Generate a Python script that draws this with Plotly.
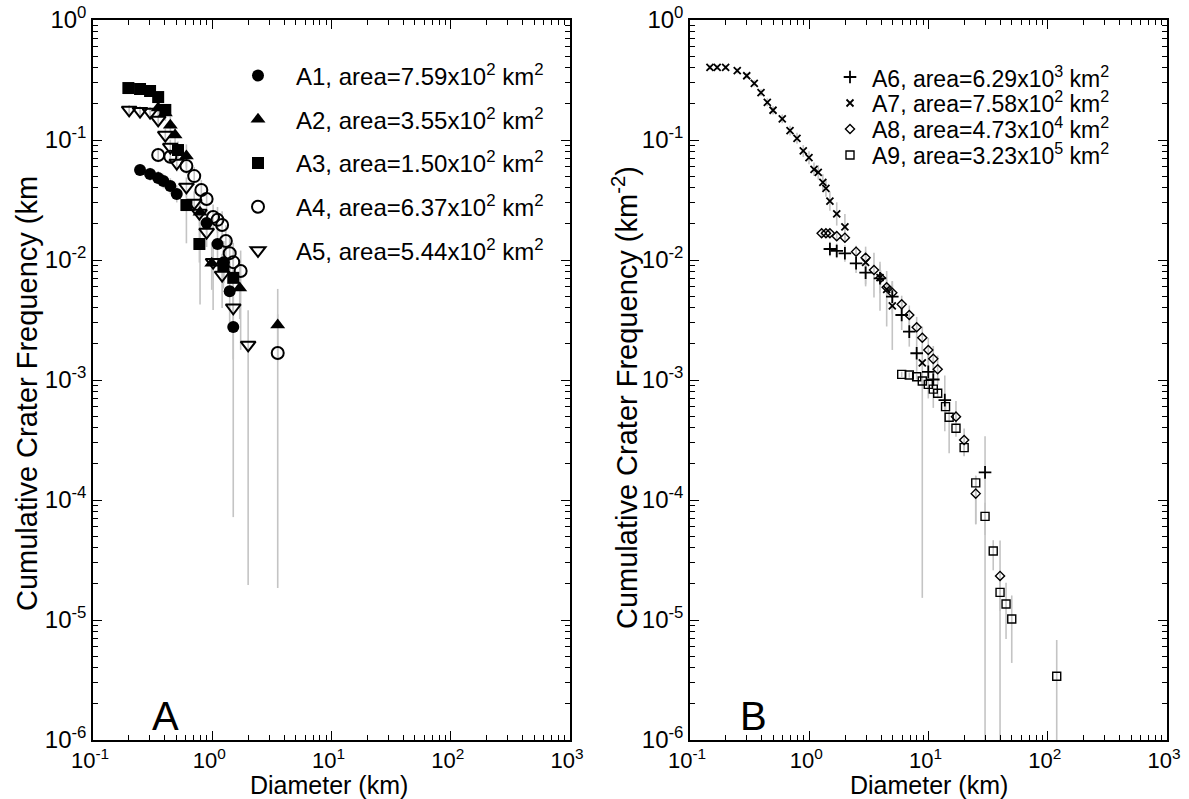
import plotly.graph_objects as go

# ---------------- Panel A data ----------------
A1_D = [0.248, 0.301, 0.352, 0.389, 0.445, 0.504, 0.897, 1.107, 1.25, 1.40, 1.50]
A1_N = [0.0562, 0.052, 0.0483, 0.0455, 0.0414, 0.0355, 0.0203, 0.0136, 0.0096, 0.0055, 0.00277]
A1_eu = [0.12, 0.13, 0.14, 0.15, 0.16, 0.18, 0.3, 0.4, 0.5, 0.7, 1.0]
A1_ed = [0.11, 0.12, 0.12, 0.13, 0.14, 0.15, 0.23, 0.28, 0.33, 0.45, 0.974]

A2_D = [0.352, 0.404, 0.445, 0.488, 0.607, 0.79, 0.99, 1.70, 3.54]
A2_N = [0.185, 0.168, 0.133, 0.110, 0.0736, 0.025, 0.0094, 0.00585, 0.00287]
A2_eu = [0.15, 0.16, 0.18, 0.2, 0.25, 0.35, 0.5, 0.6, 1.0]
A2_ed = [0.13, 0.14, 0.15, 0.17, 0.2, 0.83, 0.4, 0.45, 0.5]

A3_D = [0.198, 0.248, 0.301, 0.352, 0.404, 0.516, 0.607, 0.78, 1.24, 1.50]
A3_N = [0.271, 0.266, 0.256, 0.228, 0.178, 0.0825, 0.0287, 0.0136, 0.0089, 0.0071]
A3_eu = [0.1, 0.1, 0.1, 0.11, 0.12, 0.18, 0.3, 0.4, 0.5, 0.55]
A3_ed = [0.09, 0.09, 0.09, 0.1, 0.11, 0.15, 0.52, 0.3, 0.35, 0.4]

A4_D = [0.352, 0.445, 0.607, 0.706, 0.81, 0.897, 1.017, 1.107, 1.21, 1.30, 1.40, 1.50, 1.73, 3.54]
A4_N = [0.075, 0.0726, 0.0607, 0.050, 0.0383, 0.0322, 0.0228, 0.0216, 0.0196, 0.0144, 0.0114, 0.0096, 0.0081, 0.00168]
A4_eu = [0.15, 0.15, 0.17, 0.19, 0.21, 0.23, 0.27, 0.28, 0.3, 0.35, 0.4, 0.45, 0.48, 1.1]
A4_ed = [0.13, 0.13, 0.14, 0.16, 0.17, 0.19, 0.21, 0.22, 0.23, 0.26, 0.3, 0.35, 0.78, 0.989]

A5_D = [0.201, 0.248, 0.301, 0.352, 0.404, 0.445, 0.504, 0.607, 0.706, 0.78, 0.897, 1.017, 1.21, 1.50, 2.0]
A5_N = [0.178, 0.174, 0.171, 0.147, 0.110, 0.0874, 0.0643, 0.0406, 0.0299, 0.0246, 0.0171, 0.0096, 0.0075, 0.0040, 0.00196]
A5_eu = [0.1, 0.1, 0.1, 0.11, 0.13, 0.15, 0.17, 0.2, 0.25, 0.28, 0.32, 0.45, 0.5, 0.6, 0.95]
A5_ed = [0.09, 0.09, 0.09, 0.1, 0.11, 0.13, 0.15, 0.17, 0.2, 0.22, 0.25, 0.6, 0.47, 0.63, 0.99]

# ---------------- Panel B data ----------------
A6_D = [1.49, 1.70, 1.99, 2.47, 2.97, 3.92, 4.97, 5.96, 6.90, 7.96, 9.96, 10.97, 13.7, 29.8]
A6_N = [0.01235, 0.0119, 0.01137, 0.00939, 0.00784, 0.00704, 0.00495, 0.00348, 0.00253, 0.00167, 0.00117, 0.00101, 0.00068, 0.00017]
A6_eu = [0.15, 0.15, 0.17, 0.2, 0.25, 0.3, 0.35, 0.33, 0.37, 0.4, 0.45, 0.5, 0.6, 1.0]
A6_ed = [0.13, 0.13, 0.15, 0.17, 0.2, 0.25, 0.28, 0.25, 0.25, 0.3, 0.4, 0.42, 0.45, 0.9999]

A7_D = [0.147, 0.169, 0.199, 0.249, 0.299, 0.346, 0.394, 0.445, 0.497, 0.594, 0.69, 0.789, 0.891,
        0.995, 1.096, 1.19, 1.30, 1.38, 1.49, 1.70, 1.99, 2.97, 3.92, 4.46, 4.97, 8.87]
A7_N = [0.403, 0.403, 0.403, 0.378, 0.343, 0.297, 0.248, 0.206, 0.177, 0.150, 0.1196, 0.1033, 0.081,
        0.0712, 0.057, 0.0538, 0.0444, 0.0396, 0.031, 0.0242, 0.0189, 0.00957, 0.00712, 0.0057, 0.00414, 0.00139]
A7_eu = [0.05, 0.05, 0.05, 0.05, 0.06, 0.06, 0.07, 0.08, 0.08, 0.09, 0.1, 0.11, 0.12,
         0.13, 0.14, 0.15, 0.17, 0.18, 0.2, 0.25, 0.28, 0.35, 0.36, 0.42, 0.6, 0.37]
A7_ed = [0.05, 0.05, 0.05, 0.05, 0.05, 0.06, 0.06, 0.07, 0.08, 0.08, 0.09, 0.1, 0.11,
         0.12, 0.12, 0.13, 0.14, 0.15, 0.17, 0.2, 0.22, 0.37, 0.47, 0.51, 0.57, 0.989]

A8_D = [1.27, 1.38, 1.49, 1.70, 1.99, 2.47, 2.97, 3.49, 3.97, 4.46, 4.97, 5.96, 6.90, 7.96, 8.87,
        9.96, 10.97, 11.94, 17.0, 19.9, 24.9, 39.8]
A8_N = [0.0167, 0.0167, 0.0167, 0.0158, 0.01535, 0.01173, 0.01045, 0.00825, 0.00712, 0.00592, 0.00534,
        0.00427, 0.00348, 0.00275, 0.00225, 0.00178, 0.0015, 0.00123, 0.000495, 0.000316, 0.000113, 2.33e-5]
A8_eu = [0.08, 0.08, 0.08, 0.1, 0.1, 0.12, 0.13, 0.39, 0.15, 0.16, 0.17, 0.18, 0.2, 0.22, 0.24,
         0.26, 0.28, 0.3, 0.35, 0.25, 0.4, 0.97]
A8_ed = [0.07, 0.07, 0.07, 0.08, 0.09, 0.1, 0.11, 0.41, 0.13, 0.14, 0.15, 0.16, 0.17, 0.18, 0.2,
         0.22, 0.24, 0.26, 0.28, 0.26, 0.44, 0.9999]

A9_D = [5.96, 6.90, 7.96, 8.87, 9.96, 10.97, 11.94, 13.9, 14.9, 17.0, 19.9, 24.9, 29.8, 34.9, 39.8,
        44.7, 49.9, 118.9]
A9_N = [0.001115, 0.0011, 0.001065, 0.00098, 0.00092, 0.00084, 0.000775, 0.0006, 0.00049, 0.000396,
        0.000273, 0.000139, 7.3e-5, 3.76e-5, 1.7e-5, 1.36e-5, 1.02e-5, 3.4e-6]
A9_eu = [0.05, 0.05, 0.05, 0.06, 0.07, 0.08, 0.09, 0.12, 0.14, 0.15, 0.15, 0.15, 0.3, 0.23, 0.3,
         0.5, 0.57, 1.0]
A9_ed = [0.05, 0.05, 0.05, 0.06, 0.07, 0.08, 0.09, 0.12, 0.5, 0.15, 0.15, 0.55, 0.3, 0.31, 0.3,
         0.49, 0.57, 0.9999]

# legend labels
labels_A = ["A1, area=7.59x10<sup>2</sup> km<sup>2</sup>",
            "A2, area=3.55x10<sup>2</sup> km<sup>2</sup>",
            "A3, area=1.50x10<sup>2</sup> km<sup>2</sup>",
            "A4, area=6.37x10<sup>2</sup> km<sup>2</sup>",
            "A5, area=5.44x10<sup>2</sup> km<sup>2</sup>"]
labels_B = ["A6, area=6.29x10<sup>3</sup> km<sup>2</sup>",
            "A7, area=7.58x10<sup>2</sup> km<sup>2</sup>",
            "A8, area=4.73x10<sup>4</sup> km<sup>2</sup>",
            "A9, area=3.23x10<sup>5</sup> km<sup>2</sup>"]

x_tickvals = [0.1, 1, 10, 100, 1000]
x_ticktext = ["10<sup>-1</sup>", "10<sup>0</sup>", "10<sup>1</sup>", "10<sup>2</sup>", "10<sup>3</sup>"]
y_tickvals = [1e-6, 1e-5, 1e-4, 1e-3, 1e-2, 1e-1, 1]
y_ticktext = ["10<sup>-6</sup>", "10<sup>-5</sup>", "10<sup>-4</sup>", "10<sup>-3</sup>",
              "10<sup>-2</sup>", "10<sup>-1</sup>", "10<sup>0</sup>"]

FONT = "Liberation Sans, Arial, Helvetica, sans-serif"
ERRC = "#c4c4c4"

W, H = 1189, 799
TOP, BOT = 20, 740          # plot area top / bottom in px
PH = BOT - TOP
AX_A = [93, 570]
AX_B = [690, 1167]

def py(ypx):                # px -> paper y
    return 1 - (ypx - TOP) / PH

fig = go.Figure()

seriesA = [
    (A1_D, A1_N, A1_eu, A1_ed, "circle", labels_A[0]),
    (A2_D, A2_N, A2_eu, A2_ed, "triangle-up", labels_A[1]),
    (A3_D, A3_N, A3_eu, A3_ed, "square", labels_A[2]),
    (A4_D, A4_N, A4_eu, A4_ed, "circle-open", labels_A[3]),
    (A5_D, A5_N, A5_eu, A5_ed, "triangle-down-open", labels_A[4]),
]
seriesB = [
    (A6_D, A6_N, A6_eu, A6_ed, "cross-thin", labels_B[0]),
    (A7_D, A7_N, A7_eu, A7_ed, "x-thin", labels_B[1]),
    (A8_D, A8_N, A8_eu, A8_ed, "diamond-open", labels_B[2]),
    (A9_D, A9_N, A9_eu, A9_ed, "square-open", labels_B[3]),
]

# error bars first (beneath markers)
for (D, N, eu, ed, sym, lab), xa, ya in [(s, "x", "y") for s in seriesA] + [(s, "x2", "y2") for s in seriesB]:
    fig.add_trace(go.Scatter(
        x=D, y=N, mode="markers", xaxis=xa, yaxis=ya, showlegend=False, hoverinfo="skip",
        marker=dict(size=2, opacity=0),
        error_y=dict(type="data", symmetric=False,
                     array=[n * e for n, e in zip(N, eu)],
                     arrayminus=[n * e for n, e in zip(N, ed)],
                     color=ERRC, thickness=1.6, width=0)))

sizesA = [12, 13, 12, 12, 13]
for i, (D, N, eu, ed, sym, lab) in enumerate(seriesA):
    openm = sym.endswith("open")
    fig.add_trace(go.Scatter(
        x=D, y=N, mode="markers", xaxis="x", yaxis="y", name=lab, legend="legend",
        legendgroup="a%d" % i,
        marker=dict(symbol=sym, size=sizesA[i], color="black",
                    line=dict(color="black", width=2 if openm else 0))))

sizesB = [9, 7, 7, 8]
for i, (D, N, eu, ed, sym, lab) in enumerate(seriesB):
    fig.add_trace(go.Scatter(
        x=D, y=N, mode="markers", xaxis="x2", yaxis="y2", name="", legend="legend2",
        legendgroup="b%d" % i,
        marker=dict(symbol=sym, size=sizesB[i], color="black",
                    line=dict(color="black", width=1.8 if i < 2 else 1.4))))

minor_x = [m * 10.0 ** e for e in range(-1, 3) for m in range(2, 10)]
minor_y = [m * 10.0 ** e for e in range(-6, 0) for m in range(2, 10)]

def xax(domain, anchor):
    return dict(type="log", range=[-1, 3], domain=domain, anchor=anchor,
                tickmode="array", tickvals=x_tickvals, ticktext=x_ticktext,
                ticks="inside", ticklen=9, tickwidth=1.3, tickcolor="black",
                minor=dict(tickmode="array", tickvals=minor_x, ticks="inside", ticklen=5,
                           tickwidth=1, tickcolor="black", showgrid=False),
                showline=True, linecolor="black", linewidth=1.5, mirror="allticks",
                showgrid=False, zeroline=False, ticklabeloverflow="allow", ticklabelshift=-3,
                tickfont=dict(size=22, color="black", family=FONT))

def yax(domain, anchor):
    return dict(type="log", range=[-6, 0], domain=domain, anchor=anchor,
                tickmode="array", tickvals=y_tickvals, ticktext=y_ticktext,
                ticks="inside", ticklen=9, tickwidth=1.3, tickcolor="black",
                minor=dict(tickmode="array", tickvals=minor_y, ticks="inside", ticklen=5,
                           tickwidth=1, tickcolor="black", showgrid=False),
                showline=True, linecolor="black", linewidth=1.5, mirror="allticks",
                showgrid=False, zeroline=False, ticklabeloverflow="allow",
                tickfont=dict(size=24, color="black", family=FONT))

ROWB = 25.7
TF = dict(size=29, color="black", family=FONT)
XF = dict(size=25, color="black", family=FONT)
annotations = [
    dict(text="A", x=150 / W, y=py(716), xref="paper", yref="paper", xanchor="left", yanchor="middle",
         showarrow=False, font=dict(size=40, color="black", family=FONT)),
    dict(text="B", x=738 / W, y=py(716), xref="paper", yref="paper", xanchor="left", yanchor="middle",
         showarrow=False, font=dict(size=40, color="black", family=FONT)),
    dict(text="Cumulative Crater Frequency (km", x=27 / W, y=py(394), xref="paper", yref="paper",
         xanchor="center", yanchor="middle", textangle=-90, showarrow=False, font=TF),
    dict(text="Cumulative Crater Frequency (km<sup>-2</sup>)", x=625 / W, y=py(398), xref="paper",
         yref="paper", xanchor="center", yanchor="middle", textangle=-90, showarrow=False, font=TF),
    dict(text="Diameter (km)", x=(AX_A[0] + AX_A[1]) / 2 / W - 3 / W, y=py(785), xref="paper",
         yref="paper", xanchor="center", yanchor="middle", showarrow=False, font=XF),
    dict(text="Diameter (km)", x=(AX_B[0] + AX_B[1]) / 2 / W, y=py(785), xref="paper",
         yref="paper", xanchor="center", yanchor="middle", showarrow=False, font=XF),
]
for i, lab in enumerate(labels_B):
    annotations.append(dict(text=lab, x=870 / W, y=py(76.5 + i * ROWB), xref="paper", yref="paper",
                            xanchor="left", yanchor="middle", showarrow=False,
                            font=dict(size=23, color="black", family=FONT)))

fig.update_layout(
    width=W, height=H, template="none",
    paper_bgcolor="white", plot_bgcolor="white",
    margin=dict(l=0, r=0, t=TOP, b=H - BOT),
    font=dict(family=FONT, color="black"),
    xaxis=xax([AX_A[0] / W, AX_A[1] / W], "y"),
    yaxis=yax([0, 1], "x"),
    xaxis2=xax([AX_B[0] / W, AX_B[1] / W], "y2"),
    yaxis2=yax([0, 1], "x2"),
    legend=dict(x=220 / W, y=py(53.5), xref="paper", yref="paper", xanchor="left", yanchor="top",
                bgcolor="rgba(0,0,0,0)", borderwidth=0, itemwidth=66,
                traceorder="grouped", tracegroupgap=9.5,
                font=dict(size=24, color="black", family=FONT)),
    legend2=dict(x=827 / W, y=py(62.5), xref="paper", yref="paper", xanchor="left", yanchor="top",
                 bgcolor="rgba(0,0,0,0)", borderwidth=0, itemwidth=36,
                 traceorder="grouped", tracegroupgap=7,
                 font=dict(size=10, color="black", family=FONT)),
    annotations=annotations,
)

fig.write_html("out.html", config={"displayModeBar": False},
               post_script="document.body.style.margin='0';")
